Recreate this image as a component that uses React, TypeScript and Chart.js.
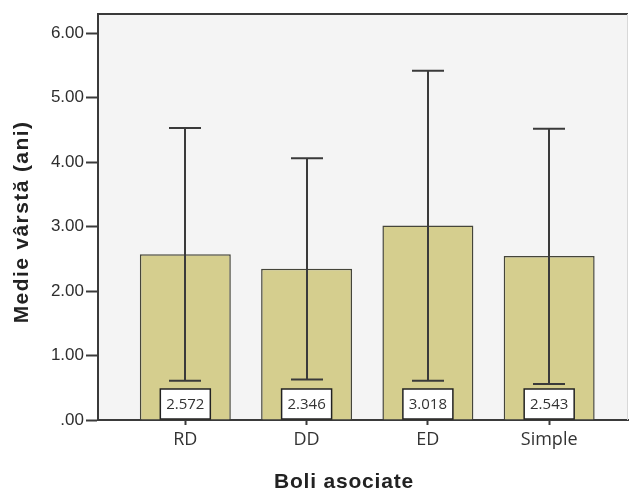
import React, { useEffect, useRef } from "react";
import { Chart, registerables } from "chart.js";

Chart.register(...registerables);

// Mean age per associated-disease group, with error bar bounds
const categories = ["RD", "DD", "ED", "Simple"];
const means = [2.572, 2.346, 3.018, 2.543];
const lowerBounds = [0.61, 0.63, 0.61, 0.56];
const upperBounds = [4.53, 4.06, 5.42, 4.52];
const yTickValues = [0, 1, 2, 3, 4, 5, 6];

const xTitle = "Boli asociate";
const yTitle = "Medie vârstă (ani)";

const BAR_FILL = "#d5ce8e";
const INK = "#3a3a3a";
const PLOT_BG = "#f4f4f4";

const frameAndErrorPlugin = {
  id: "frameAndError",
  beforeDraw(chart: any) {
    const { ctx, chartArea: a } = chart;
    ctx.save();
    ctx.fillStyle = PLOT_BG;
    ctx.fillRect(a.left, a.top, a.right - a.left, a.bottom - a.top);
    ctx.restore();
  },
  afterDatasetsDraw(chart: any) {
    const { ctx, chartArea: a, scales } = chart;
    const xs = scales.x;
    const ys = scales.y;
    ctx.save();
    // frame: top and right edges
    ctx.strokeStyle = INK;
    ctx.lineWidth = 2;
    ctx.beginPath();
    ctx.moveTo(a.left, a.top);
    ctx.lineTo(a.right, a.top);
    ctx.stroke();
    ctx.strokeStyle = "#d8d8d8";
    ctx.lineWidth = 1;
    ctx.beginPath();
    ctx.moveTo(a.right - 0.5, a.top);
    ctx.lineTo(a.right - 0.5, a.bottom);
    ctx.stroke();

    // error bars
    ctx.strokeStyle = INK;
    ctx.lineWidth = 2;
    categories.forEach((_, i) => {
      const x = Math.round(xs.getPixelForValue(i));
      const yl = ys.getPixelForValue(lowerBounds[i]);
      const yu = ys.getPixelForValue(upperBounds[i]);
      ctx.beginPath();
      ctx.moveTo(x, yu);
      ctx.lineTo(x, yl);
      ctx.moveTo(x - 16, yu);
      ctx.lineTo(x + 16, yu);
      ctx.moveTo(x - 16, yl);
      ctx.lineTo(x + 16, yl);
      ctx.stroke();
    });

    // value boxes at the base of each bar
    const y0 = ys.getPixelForValue(0);
    categories.forEach((_, i) => {
      const x = xs.getPixelForValue(i);
      const w = 50;
      const h = 30;
      const top = y0 - h - 1;
      ctx.fillStyle = "#ffffff";
      ctx.fillRect(x - w / 2, top, w, h);
      ctx.strokeStyle = "#222";
      ctx.lineWidth = 1.5;
      ctx.strokeRect(x - w / 2, top, w, h);
      ctx.fillStyle = "#333";
      ctx.font = "15px 'Open Sans', sans-serif";
      ctx.textAlign = "center";
      ctx.textBaseline = "middle";
      ctx.fillText(means[i].toFixed(3), x, top + h / 2 + 1);
    });

    // axis titles
    ctx.fillStyle = "#222";
    ctx.font = "bold 21px 'Liberation Sans', Arial, sans-serif";
    ctx.textAlign = "center";
    ctx.textBaseline = "middle";
    (ctx as any).letterSpacing = "0.8px";
    ctx.fillText(xTitle, a.left + 246, 482);
    (ctx as any).letterSpacing = "1.4px";
    ctx.translate(22, 222);
    ctx.rotate(-Math.PI / 2);
    ctx.fillText(yTitle, 0, 0);
    ctx.restore();
  },
};

export default function App() {
  const canvasRef = useRef<HTMLCanvasElement | null>(null);

  useEffect(() => {
    if (!canvasRef.current) return;
    const chart = new Chart(canvasRef.current, {
      type: "bar",
      data: {
        datasets: [
          {
            data: categories.map((_, i) => ({ x: i, y: means[i] })),
            backgroundColor: BAR_FILL,
            borderColor: "#45453a",
            borderWidth: 1.5,
            barPercentage: 0.75,
            categoryPercentage: 1,
          },
        ],
      },
      options: {
        animation: false,
        responsive: true,
        maintainAspectRatio: false,
        layout: { padding: { top: 14, right: 3, left: 0, bottom: 0 } },
        plugins: {
          legend: { display: false },
          tooltip: { enabled: false },
        },
        scales: {
          x: {
            type: "linear",
            offset: false,
            min: -0.72,
            max: 3.65,
            afterBuildTicks: (scale: any) => {
              scale.ticks = categories.map((_, i) => ({ value: i }));
            },
            afterFit: (scale: any) => {
              scale.height = 70;
            },
            ticks: {
              callback: (v: any) => categories[v] ?? "",
              color: "#333",
              font: { size: 18, family: "'Open Sans', sans-serif" },
              padding: 4,
              maxRotation: 0,
              autoSkip: false,
            },
            grid: {
              offset: false,
              drawOnChartArea: false,
              drawTicks: true,
              tickLength: 5,
              tickColor: INK,
              tickWidth: 2,
            },
            border: { display: true, color: INK, width: 2 },
          },
          y: {
            min: 0,
            max: 6.3,
            afterBuildTicks: (scale: any) => {
              scale.ticks = yTickValues.map((v) => ({ value: v }));
            },
            afterFit: (scale: any) => {
              scale.width = 98;
            },
            ticks: {
              callback: (v: any) => (v === 0 ? ".00" : Number(v).toFixed(2)),
              color: "#2e2e2e",
              font: { size: 17, family: "'Liberation Sans', Arial, sans-serif" },
              padding: 2,
            },
            grid: {
              drawOnChartArea: false,
              drawTicks: true,
              tickLength: 12,
              tickColor: INK,
              tickWidth: 2,
            },
            border: { display: true, color: INK, width: 2 },
          },
        },
      },
      plugins: [frameAndErrorPlugin],
    });
    return () => chart.destroy();
  }, []);

  return (
    <div
      style={{
        position: "absolute",
        left: 0,
        top: 0,
        width: 631,
        height: 490,
        background: "#ffffff",
      }}
    >
      <canvas ref={canvasRef} />
    </div>
  );
}
